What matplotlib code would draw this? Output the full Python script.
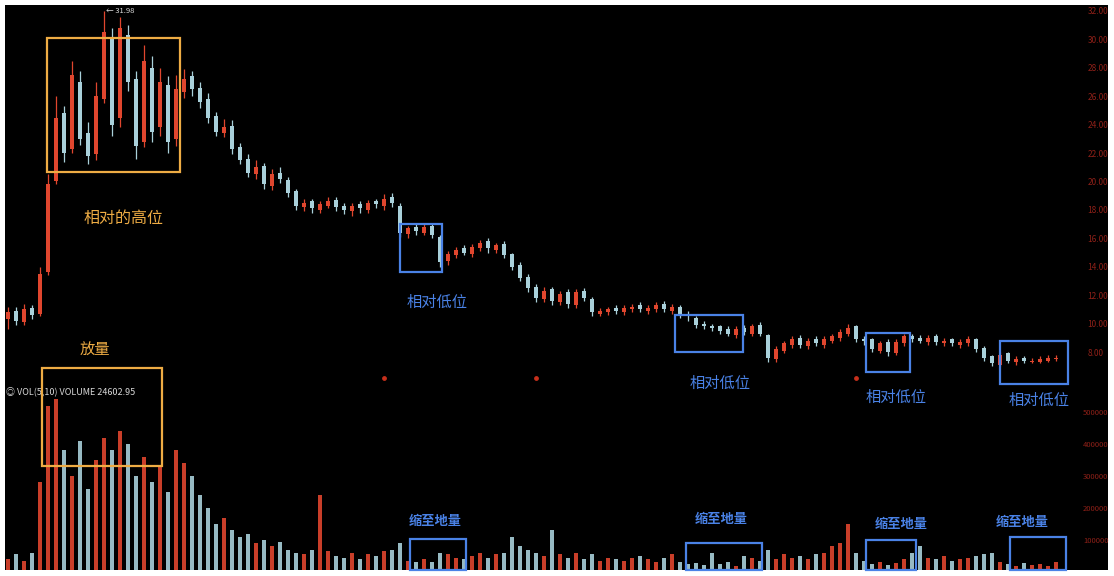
import matplotlib
matplotlib.use("Agg")
import matplotlib.pyplot as plt
from matplotlib.patches import Rectangle
import numpy as np

plt.rcParams['font.family'] = ['Noto Sans CJK SC', 'DejaVu Sans']

# daily candles (open / close / high / low) and volume
opens = [10.3, 10.9, 10.1, 11.1, 10.7, 13.6, 20.0, 24.8, 22.3, 27.0, 23.4, 21.9, 25.8, 30.2, 24.5, 30.3,
         27.2, 22.8, 28.0, 23.8, 26.8, 23.0, 26.3, 27.4, 26.6, 25.8, 24.6, 23.4, 23.9, 22.4, 21.6, 20.5,
         21.1, 19.7, 20.6, 20.1, 19.3, 18.2, 18.6, 18.0, 18.3, 18.7, 18.3, 17.9, 18.4, 18.0, 18.6, 18.3,
         18.9, 18.3, 16.3, 16.8, 16.4, 16.9, 16.1, 14.4, 14.8, 15.3, 14.9, 15.3, 15.8, 15.2, 15.6, 14.9,
         14.1, 13.3, 12.6, 11.7, 12.4, 11.5, 12.2, 11.3, 12.3, 11.7, 10.7, 10.8, 11.1, 10.8, 11.0, 11.3,
         10.9, 11.0, 11.4, 10.9, 11.2, 10.7, 10.4, 10.0, 9.8, 9.8, 9.6, 9.2, 9.7, 9.3, 9.9, 9.2,
         7.5, 8.1, 8.5, 9.0, 8.4, 8.9, 8.5, 8.8, 9.0, 9.3, 9.8, 8.9, 8.9, 8.1, 8.7, 7.9,
         8.6, 9.1, 9.0, 8.7, 9.1, 8.6, 8.9, 8.5, 8.6, 8.9, 8.3, 7.7, 7.1, 7.9, 7.3, 7.6,
         7.3, 7.3, 7.4, 7.5]
closes = [10.8, 10.2, 11.0, 10.6, 13.5, 19.8, 24.5, 22.0, 27.5, 23.0, 21.8, 26.0, 30.5, 24.0, 30.8, 27.0,
          22.5, 28.5, 23.5, 27.0, 22.8, 26.5, 27.2, 26.5, 25.6, 24.5, 23.5, 23.8, 22.3, 21.5, 20.6, 21.0,
          19.8, 20.5, 20.2, 19.2, 18.3, 18.5, 18.1, 18.4, 18.6, 18.2, 18.0, 18.3, 18.1, 18.5, 18.4, 18.8,
          18.5, 16.4, 16.7, 16.5, 16.8, 16.2, 14.3, 14.9, 15.2, 15.0, 15.4, 15.7, 15.3, 15.5, 14.8, 14.0,
          13.2, 12.5, 11.8, 12.3, 11.6, 12.1, 11.4, 12.2, 11.8, 10.8, 10.9, 11.0, 10.9, 11.1, 11.2, 11.0,
          11.1, 11.3, 11.0, 11.2, 10.6, 10.5, 9.9, 9.8, 9.7, 9.5, 9.3, 9.6, 9.4, 9.8, 9.3, 7.6,
          8.2, 8.6, 8.9, 8.5, 8.8, 8.6, 8.9, 9.1, 9.4, 9.7, 8.9, 8.8, 8.2, 8.6, 8.0, 8.7,
          9.1, 8.9, 8.8, 9.0, 8.7, 8.8, 8.6, 8.7, 8.9, 8.2, 7.6, 7.2, 7.8, 7.4, 7.5, 7.4,
          7.4, 7.5, 7.6, 7.6]
highs = [11.2, 11.2, 11.4, 11.3, 14.0, 20.5, 26.0, 25.3, 28.5, 27.8, 24.2, 27.0, 31.98, 30.8, 31.6, 31.0,
         27.8, 29.6, 28.8, 28.0, 27.4, 27.5, 27.9, 27.8, 27.0, 26.2, 24.9, 24.4, 24.3, 22.7, 21.9, 21.5,
         21.3, 20.9, 21.0, 20.3, 19.5, 18.8, 18.8, 18.6, 18.9, 18.9, 18.5, 18.5, 18.6, 18.7, 18.8, 19.1,
         19.2, 18.5, 16.9, 17.0, 17.0, 17.1, 16.2, 15.1, 15.4, 15.5, 15.6, 15.9, 16.0, 15.7, 15.8, 15.0,
         14.3, 13.5, 12.8, 12.6, 12.6, 12.3, 12.4, 12.4, 12.5, 11.9, 11.1, 11.2, 11.3, 11.3, 11.4, 11.5,
         11.3, 11.5, 11.6, 11.4, 11.3, 10.9, 10.5, 10.2, 10.0, 9.9, 9.8, 9.8, 9.9, 10.0, 10.1, 9.3,
         8.4, 8.8, 9.1, 9.2, 9.0, 9.1, 9.1, 9.3, 9.6, 10.0, 9.9, 9.1, 9.0, 8.8, 8.9, 8.9,
         9.3, 9.3, 9.2, 9.2, 9.3, 9.0, 9.0, 8.9, 9.1, 9.0, 8.4, 7.8, 8.0, 8.0, 7.7, 7.7,
         7.6, 7.7, 7.8, 7.8]
lows = [9.6, 9.9, 9.9, 10.3, 10.5, 13.4, 19.8, 21.4, 22.0, 22.6, 21.2, 21.5, 25.5, 23.2, 23.8, 26.4,
        21.6, 22.4, 22.8, 23.2, 22.0, 22.5, 25.9, 26.0, 25.2, 24.1, 23.2, 23.1, 21.9, 21.2, 20.3, 20.2,
        19.5, 19.4, 19.9, 18.9, 18.0, 17.9, 17.8, 17.8, 18.1, 17.9, 17.7, 17.6, 17.8, 17.8, 18.1, 18.0,
        18.2, 16.1, 16.0, 16.2, 16.2, 16.0, 14.0, 14.1, 14.6, 14.8, 14.7, 15.1, 15.0, 15.0, 14.6, 13.8,
        13.0, 12.2, 11.5, 11.5, 11.3, 11.3, 11.1, 11.1, 11.6, 10.5, 10.5, 10.6, 10.7, 10.6, 10.8, 10.8,
        10.7, 10.8, 10.8, 10.7, 10.4, 10.2, 9.7, 9.6, 9.5, 9.3, 9.1, 9.0, 9.2, 9.1, 9.1, 7.3,
        7.3, 7.9, 8.3, 8.3, 8.2, 8.4, 8.3, 8.6, 8.8, 9.1, 8.7, 8.5, 8.0, 7.9, 7.7, 7.8,
        8.4, 8.7, 8.6, 8.5, 8.5, 8.4, 8.4, 8.3, 8.4, 8.0, 7.4, 7.0, 7.0, 7.2, 7.1, 7.2,
        7.2, 7.2, 7.3, 7.4]
volume_k = [40, 55, 35, 60, 280, 520, 540, 380, 300, 410, 260, 350, 420, 380, 440, 400,
            300, 360, 280, 330, 250, 380, 340, 300, 240, 200, 150, 170, 130, 110, 120, 90,
            100, 80, 95, 70, 60, 55, 70, 240, 65, 50, 45, 60, 40, 55, 50, 65,
            70, 90, 35, 30, 40, 32, 60, 55, 45, 40, 50, 60, 45, 55, 60, 110,
            80, 70, 60, 50, 130, 55, 45, 60, 40, 55, 35, 45, 40, 35, 45, 50,
            40, 30, 45, 55, 30, 25, 28, 22, 60, 25, 30, 20, 50, 45, 35, 70,
            40, 55, 45, 50, 40, 55, 60, 80, 90, 150, 60, 35, 25, 30, 22, 28,
            40, 60, 80, 45, 40, 50, 35, 40, 45, 50, 55, 60, 30, 25, 20, 28,
            22, 25, 20, 30]

price_ticks = [32, 30, 28, 26, 24, 22, 20, 18, 16, 14, 12, 10, 8]
vol_ticks = [100000, 200000, 300000, 400000, 500000]
event_idx = [47, 66, 106]

W, H = 1114, 576
fig = plt.figure(figsize=(W / 100, H / 100), dpi=100)
fig.patch.set_facecolor('white')

bg = fig.add_axes([5 / W, 6 / H, 1103 / W, 565 / H])
bg.set_facecolor('black')
bg.set_xticks([])
bg.set_yticks([])
for s in bg.spines.values():
    s.set_visible(False)

ax = fig.add_axes([5 / W, (H - 380) / H, 1065 / W, 375 / H])
axv = fig.add_axes([5 / W, (H - 570) / H, 1065 / W, 190 / H], sharex=ax)

up_col = '#e0462e'
dn_col = '#a9d0da'

x = np.arange(len(closes))
o = np.array(opens)
c = np.array(closes)
cols = [up_col if cc >= oo else dn_col for oo, cc in zip(o, c)]

ax.vlines(x, lows, highs, colors=cols, linewidth=0.9)
body_low = np.minimum(o, c)
body_h = np.maximum(np.abs(c - o), 0.08)
ax.bar(x, body_h, bottom=body_low, width=0.55, color=cols, linewidth=0)

vol = np.array(volume_k) * 1000
axv.bar(x, vol, width=0.6, color=cols, linewidth=0, alpha=0.9)

for a in (ax, axv):
    a.set_facecolor('none')
    for s in a.spines.values():
        s.set_visible(False)
    a.tick_params(axis='x', bottom=False, labelbottom=False)
    a.yaxis.tick_right()
    a.tick_params(axis='y', right=False, colors='#8e2018', labelsize=6, pad=9)
axv.tick_params(axis='y', labelsize=5.5, pad=6)

ax.set_xlim(-0.375, 132.75)
ax.set_ylim(6.03, 32.42)
ax.set_yticks(price_ticks)
ax.set_yticklabels([f'{t:.2f}' for t in price_ticks])

axv.set_ylim(6250, 600000)
axv.set_yticks(vol_ticks)
axv.set_yticklabels([str(t) for t in vol_ticks])

# small event markers at the bottom of the price panel
ax.scatter(event_idx, [6.2] * len(event_idx), s=6, color='#c8301c', clip_on=False, zorder=3)

ax.text(12.3, 31.98, '← 31.98', color='#dddddd', fontsize=5.5, va='center', ha='left')
axv.text(-0.2, 565000, '◎ VOL(5,10) VOLUME 24602.95', color='#d8d8d8', fontsize=6.5, va='center', ha='left')

orange = '#eeac44'
blue = '#4a82e6'


def box(a, x0, x1, y0, y1, col):
    a.add_patch(Rectangle((x0, y0), x1 - x0, y1 - y0, fill=False, edgecolor=col,
                          linewidth=1.6, clip_on=False, zorder=5))


# price panel annotations
box(ax, 4.875, 21.5, 20.67, 30.1, orange)
ax.text(14.5, 17.4, '相对的高位', color=orange, fontsize=11.5, ha='center', va='center')

price_boxes = [(49, 54.25, 13.63, 17.01), (83.4, 91.9, 8.0, 10.61),
               (107.25, 112.75, 6.6, 9.34), (124, 132.5, 5.75, 8.78)]
low_labels = [(53.6, 11.5), (89, 5.8), (111, 4.8), (128.9, 4.6)]
for b in price_boxes:
    box(ax, *b, blue)
for tx, ty in low_labels:
    ax.text(tx, ty, '相对低位', color=blue, fontsize=11, ha='center', va='center')

# volume panel annotations
box(axv, 4.25, 19.25, 331000, 637000, orange)
axv.text(10.9, 694000, '放量', color=orange, fontsize=11, ha='center', va='center')

vol_boxes = [(50.25, 57.25, 6250, 103000), (84.75, 94.25, 6250, 90000),
             (107.25, 113.5, 6250, 100000), (125.25, 132.25, 6250, 110000)]
shrink_labels = [(53.4, 159000), (89.1, 166000), (111.6, 150000), (126.75, 156000)]
for b in vol_boxes:
    box(axv, *b, blue)
for tx, ty in shrink_labels:
    axv.text(tx, ty, '缩至地量', color=blue, fontsize=9.5, ha='center', va='center', fontweight='bold')

fig.savefig('out.png', dpi=100, facecolor=fig.get_facecolor())
